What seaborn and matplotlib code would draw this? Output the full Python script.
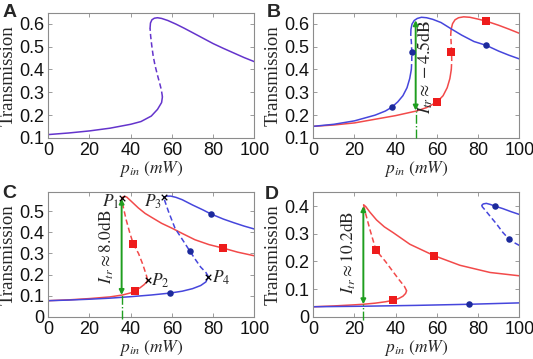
import pandas as pd
import matplotlib.pyplot as plt
import matplotlib.ticker as mticker
import seaborn as sns

sns.set_theme(style='ticks')
plt.rcParams['font.family'] = ['Liberation Sans', 'DejaVu Sans']
plt.rcParams['mathtext.fontset'] = 'stix'

BLUE = '#4646dc'
RED = '#f24a4a'
PURPLE = '#6434cc'
DOT = '#1c2a9c'
SQ = '#ee1c1c'
GREEN = '#1f9e1f'

# ---- panel A (both curves overlap -> purple)
a_low_p = [0, 10, 20, 30, 40, 45, 50, 53, 55, 55.4]
a_low_t = [0.115, 0.122, 0.131, 0.143, 0.160, 0.172, 0.196, 0.225, 0.255, 0.28]
a_mid_p = [55.4, 54.9, 54.2, 53.0, 51.8, 50.9, 50.2, 49.7, 49.4]
a_mid_t = [0.28, 0.31, 0.335, 0.375, 0.418, 0.46, 0.506, 0.545, 0.58]
a_up_p = [49.4, 49.6, 50.3, 51.5, 53, 55, 58, 62, 66, 70, 75, 80, 85, 90, 95, 100]
a_up_t = [0.58, 0.603, 0.617, 0.624, 0.626, 0.623, 0.614, 0.598, 0.58, 0.561,
          0.537, 0.513, 0.492, 0.472, 0.452, 0.434]

# ---- panel B
b_blue_low_p = [0, 10, 20, 30, 35, 38, 41, 43.5, 45.5, 46.8, 47.6]
b_blue_low_t = [0.151, 0.160, 0.175, 0.200, 0.218, 0.234, 0.258, 0.285, 0.32, 0.36, 0.40]
b_blue_mid_p = [47.6, 47.8, 47.8, 47.6, 47.3]
b_blue_mid_t = [0.40, 0.44, 0.48, 0.52, 0.55]
b_blue_up_p = [47.3, 47.4, 47.9, 49, 50.5, 52.5, 55, 58, 62, 67, 72, 78, 84, 90, 95, 100]
b_blue_up_t = [0.55, 0.575, 0.598, 0.614, 0.623, 0.628, 0.626, 0.619, 0.605, 0.577,
               0.55, 0.522, 0.505, 0.48, 0.462, 0.446]
b_red_low_p = [0, 10, 20, 30, 40, 50, 55, 60, 63, 65, 66.3, 67]
b_red_low_t = [0.151, 0.157, 0.166, 0.182, 0.198, 0.218, 0.233, 0.257, 0.285, 0.32, 0.36, 0.40]
b_red_mid_p = [67, 67.2, 67.1, 66.9, 66.7]
b_red_mid_t = [0.40, 0.44, 0.48, 0.52, 0.55]
b_red_up_p = [66.7, 66.9, 67.6, 68.8, 70.5, 73, 76, 80, 84, 90, 95, 100]
b_red_up_t = [0.55, 0.575, 0.60, 0.617, 0.626, 0.63, 0.628, 0.62, 0.611, 0.593, 0.576, 0.558]
b_dot_p = [38, 47.8, 84]
b_dot_t = [0.234, 0.474, 0.506]
b_sq_p = [60, 66.9, 84]
b_sq_t = [0.258, 0.474, 0.611]
b_arrow = (49.7, 0.22, 0.615)

# ---- panel C
c_blue_low_p = [0, 10, 20, 30, 40, 50, 59, 65, 70, 74, 76.5, 77.7]
c_blue_low_t = [0.076, 0.079, 0.083, 0.088, 0.095, 0.103, 0.112, 0.121, 0.133, 0.148, 0.165, 0.19]
c_blue_mid_p = [77.7, 76.5, 74, 71.5, 68.8, 65.5, 61.5, 58.3, 56.6, 56.1]
c_blue_mid_t = [0.19, 0.21, 0.235, 0.27, 0.31, 0.36, 0.42, 0.50, 0.548, 0.567]
c_blue_up_p = [56.1, 57.5, 59.5, 62, 65, 70, 75, 78.8, 85, 90, 95, 100]
c_blue_up_t = [0.567, 0.572, 0.572, 0.566, 0.555, 0.53, 0.507, 0.488, 0.463, 0.446, 0.43, 0.416]
c_red_low_p = [0, 10, 20, 30, 36, 40, 42, 44.5, 46.5, 47.8, 48.2]
c_red_low_t = [0.076, 0.08, 0.086, 0.094, 0.103, 0.113, 0.124, 0.137, 0.152, 0.165, 0.175]
c_red_mid_p = [48.2, 47.5, 45.8, 43.8, 41.3, 39.5, 37.8, 36.4, 35.6]
c_red_mid_t = [0.175, 0.2, 0.25, 0.30, 0.344, 0.40, 0.46, 0.52, 0.563]
c_red_up_p = [35.6, 36.6, 38, 40, 43.7, 47, 50.2, 55, 60, 65, 71.2, 78, 85, 92, 100]
c_red_up_t = [0.563, 0.57, 0.568, 0.55, 0.516, 0.49, 0.471, 0.443, 0.42, 0.395, 0.365,
              0.342, 0.325, 0.306, 0.289]
c_dot_p = [59, 68.8, 78.8]
c_dot_t = [0.112, 0.31, 0.488]
c_sq_p = [41.3, 42, 85]
c_sq_t = [0.344, 0.124, 0.325]
c_pts_p = [35.6, 48.2, 56.1, 77.7]
c_pts_t = [0.563, 0.175, 0.567, 0.19]
c_pts_lab = ['$P_1$', '$P_2$', '$P_3$', '$P_4$']
c_arrow = (35.6, 0.103, 0.56)

# ---- panel D
d_blue_low_p = [0, 25, 50, 75.6, 100]
d_blue_low_t = [0.036, 0.038, 0.041, 0.045, 0.05]
d_blue_mid_p = [100, 97, 95.1, 92, 89, 86, 83.5, 82, 81.8]
d_blue_mid_t = [0.258, 0.27, 0.28, 0.305, 0.335, 0.362, 0.385, 0.398, 0.403]
d_blue_up_p = [81.8, 82.5, 84, 86, 88.2, 92, 96, 100]
d_blue_up_t = [0.403, 0.408, 0.41, 0.406, 0.40, 0.391, 0.38, 0.37]
d_red_low_p = [0, 10, 20, 24.3, 30, 35, 38.5, 41.5, 43.5, 44.8, 45.3]
d_red_low_t = [0.036, 0.039, 0.043, 0.045, 0.049, 0.054, 0.059, 0.066, 0.074, 0.084, 0.094]
d_red_mid_p = [45.3, 44.2, 41.5, 38.8, 35, 30.4, 27.5, 25.5, 24.4]
d_red_mid_t = [0.094, 0.11, 0.135, 0.162, 0.2, 0.241, 0.315, 0.37, 0.405]
d_red_up_p = [24.4, 25.5, 27.5, 30.7, 34.5, 38.8, 46.9, 58.6, 71.2, 85.8, 100]
d_red_up_t = [0.405, 0.398, 0.378, 0.35, 0.325, 0.304, 0.262, 0.221, 0.186, 0.16, 0.148]
d_dot_p = [75.6, 88.2, 95.1]
d_dot_t = [0.045, 0.40, 0.28]
d_sq_p = [30.4, 38.5, 58.6]
d_sq_t = [0.241, 0.059, 0.221]
d_arrow = (24.3, 0.045, 0.40)

xticks = [0, 20, 40, 60, 80, 100]
DASH = (0, (3.5, 2))


def curve(ax, p, t, color, ls='-'):
    df = pd.DataFrame({'p': p, 't': t})
    sns.lineplot(data=df, x='p', y='t', sort=False, estimator=None,
                 color=color, lw=1.1, ls=ls, ax=ax)


def marks(ax, dp, dt, sp, st):
    sns.scatterplot(x=dp, y=dt, marker='o', s=22, color=DOT, edgecolor=DOT,
                    linewidth=0, ax=ax, zorder=5)
    sns.scatterplot(x=sp, y=st, marker='s', s=26, color=SQ, edgecolor=SQ,
                    linewidth=0, ax=ax, zorder=5)


def arrow(ax, spec, ybot):
    x, lo, hi = spec
    ax.plot([x, x], [ybot, lo], color=GREEN, lw=1.0, ls='-.', clip_on=False, zorder=3)
    ax.annotate('', xy=(x, hi), xytext=(x, lo),
                arrowprops=dict(arrowstyle='<|-|>', color=GREEN, lw=1.4,
                                mutation_scale=7, shrinkA=0, shrinkB=0), zorder=4)


def style(ax, ylim, yticks):
    ax.set_xlim(0, 100)
    ax.set_ylim(*ylim)
    ax.set_xticks(xticks)
    ax.set_yticks(yticks)
    ax.yaxis.set_major_formatter(mticker.FormatStrFormatter('%g'))
    ax.tick_params(direction='in', top=True, right=True, length=3, width=0.6,
                   color='#8c8c8c', labelsize=13, labelcolor='#111111', pad=3)
    for s in ax.spines.values():
        s.set_color('#8c8c8c')
        s.set_linewidth(0.8)
    ax.set_ylabel('Transmission', family='Liberation Serif', fontsize=13.5, labelpad=1.5)
    ax.set_xlabel(r'$p_{in}\ (mW)$', fontsize=12.5, labelpad=0)


fig = plt.figure(figsize=(5.33, 3.59), dpi=100)
axA = fig.add_axes([0.0906, 0.6156, 0.3865, 0.349])
axB = fig.add_axes([0.5878, 0.6156, 0.3865, 0.349])
axC = fig.add_axes([0.0906, 0.1178, 0.3865, 0.3465])
axD = fig.add_axes([0.5878, 0.1178, 0.3865, 0.3465])

# A
curve(axA, a_low_p, a_low_t, PURPLE)
curve(axA, a_mid_p, a_mid_t, PURPLE, DASH)
curve(axA, a_up_p, a_up_t, PURPLE)
style(axA, (0.1, 0.648), [0.1, 0.2, 0.3, 0.4, 0.5, 0.6])

# B
curve(axB, b_red_low_p, b_red_low_t, RED)
curve(axB, b_red_mid_p, b_red_mid_t, RED, DASH)
curve(axB, b_red_up_p, b_red_up_t, RED)
curve(axB, b_blue_low_p, b_blue_low_t, BLUE)
curve(axB, b_blue_mid_p, b_blue_mid_t, BLUE, DASH)
curve(axB, b_blue_up_p, b_blue_up_t, BLUE)
marks(axB, b_dot_p, b_dot_t, b_sq_p, b_sq_t)
arrow(axB, b_arrow, 0.1)
axB.text(54.5, 0.41, r'$I_{tr}\approx -4.5\mathrm{dB}$', rotation=90,
         ha='center', va='center', fontsize=13)
style(axB, (0.1, 0.648), [0.1, 0.2, 0.3, 0.4, 0.5, 0.6])

# C
curve(axC, c_red_low_p, c_red_low_t, RED)
curve(axC, c_red_mid_p, c_red_mid_t, RED, DASH)
curve(axC, c_red_up_p, c_red_up_t, RED)
curve(axC, c_blue_low_p, c_blue_low_t, BLUE)
curve(axC, c_blue_mid_p, c_blue_mid_t, BLUE, DASH)
curve(axC, c_blue_up_p, c_blue_up_t, BLUE)
marks(axC, c_dot_p, c_dot_t, c_sq_p, c_sq_t)
arrow(axC, c_arrow, -0.012)
sns.scatterplot(x=c_pts_p, y=c_pts_t, marker='x', s=16, color='black',
                linewidth=0.9, ax=axC, zorder=6)
for px, pt, lab in zip(c_pts_p, c_pts_t, c_pts_lab):
    if pt > 0.4:
        axC.text(px - 1.2, pt - 0.02, lab, ha='right', va='center', fontsize=12.5)
    else:
        axC.text(px + 1.8, pt - 0.005, lab, ha='left', va='center', fontsize=12.5)
axC.text(28, 0.33, r'$I_{tr}\approx 8.0\mathrm{dB}$', rotation=90,
         ha='center', va='center', fontsize=12.5)
style(axC, (0, 0.59), [0, 0.1, 0.2, 0.3, 0.4, 0.5])

# D
curve(axD, d_red_low_p, d_red_low_t, RED)
curve(axD, d_red_mid_p, d_red_mid_t, RED, DASH)
curve(axD, d_red_up_p, d_red_up_t, RED)
curve(axD, d_blue_low_p, d_blue_low_t, BLUE)
curve(axD, d_blue_mid_p, d_blue_mid_t, BLUE, DASH)
curve(axD, d_blue_up_p, d_blue_up_t, BLUE)
marks(axD, d_dot_p, d_dot_t, d_sq_p, d_sq_t)
arrow(axD, d_arrow, -0.012)
axD.text(16.8, 0.232, r'$I_{tr}\approx 10.2\mathrm{dB}$', rotation=90,
         ha='center', va='center', fontsize=12.5)
style(axD, (0, 0.45), [0, 0.1, 0.2, 0.3, 0.4])

for x, y, lab in [(0.004, 0.988, 'A'), (0.500, 0.988, 'B'),
                  (0.004, 0.486, 'C'), (0.497, 0.482, 'D')]:
    fig.text(x, y, lab, ha='left', va='top', fontsize=14, weight='bold')

fig.savefig('out.png', dpi=100)
